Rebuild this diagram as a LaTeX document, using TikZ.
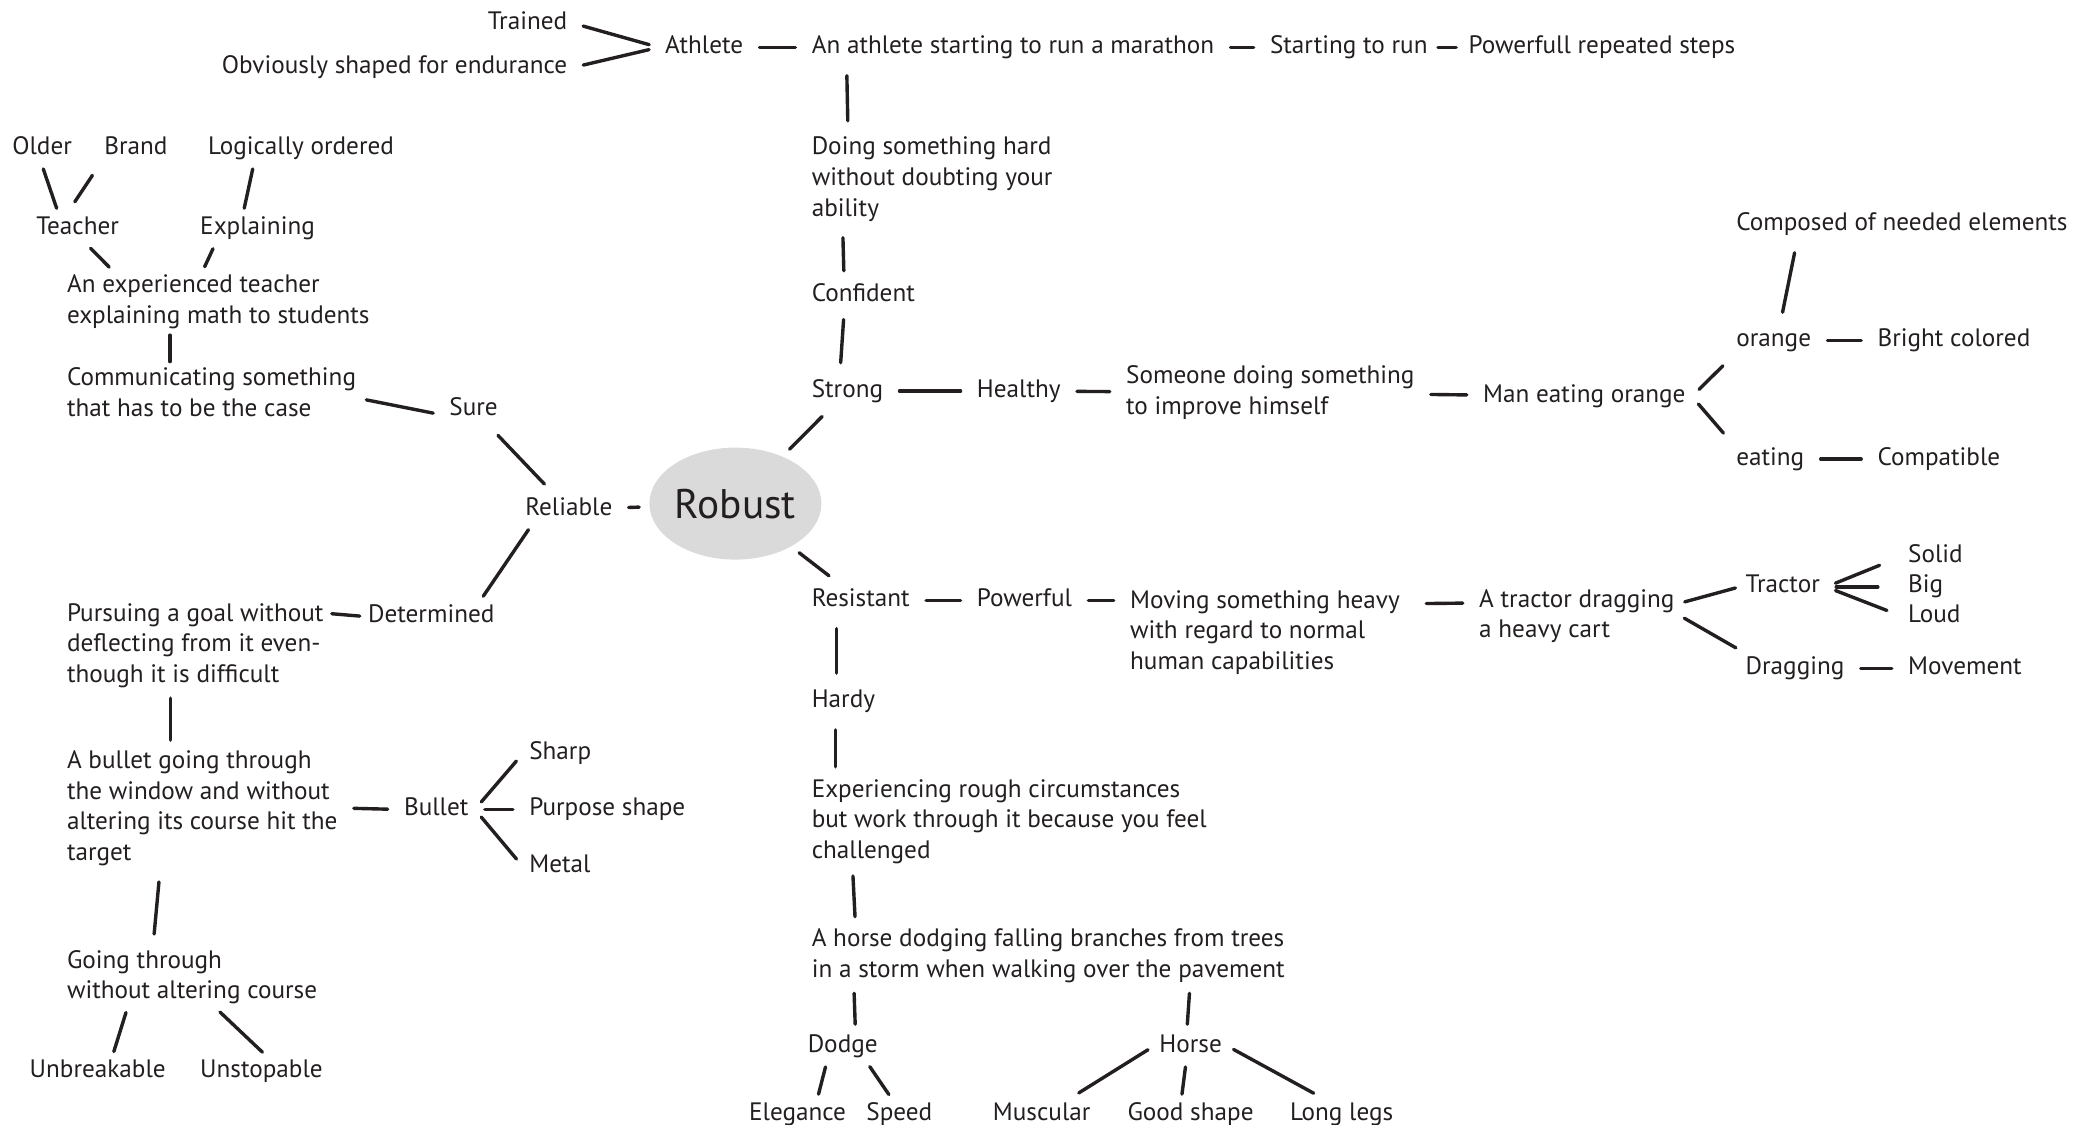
\documentclass[tikz,border=0pt]{standalone}
\usepackage{fontspec}
\setmainfont{PT Sans}
\usetikzlibrary{positioning, shapes.geometric, calc}
\definecolor{ink}{HTML}{231F20}
\definecolor{bubble}{HTML}{DADADA}

\begin{document}
\begin{tikzpicture}[
		x=0.6662pt, y=-0.6662pt,
		idea/.style={inner sep=3pt, anchor=west, yshift=-1.7pt, text=ink, font=\fontsize{12.6}{15.3}\selectfont},
		word/.style={idea, text height=9pt, text depth=3pt},
		note/.style={idea, align=left},
		hub/.style={ellipse, fill=bubble, inner sep=0pt, minimum width=86pt, minimum height=56pt, text=ink, font=\fontsize{20.7}{24}\selectfont},
		link/.style={draw=ink, line width=1.7pt, line cap=round, shorten >=5pt, shorten <=5pt},
		tight/.style={shorten >=1pt, shorten <=1pt}
		]
		\useasboundingbox (0,0) rectangle (1568,844);
		
		% Centre
		\node[hub] (robust) at (552,378) {Robust};
		
		% Strong branch (top)
		\node[word, anchor=east] (trained) at (430.5,15) {Trained};
		\node[word, anchor=east] (endurance) at (430.5,48) {Obviously shaped for endurance};
		\node[word] (athlete) at (494.5,33) {Athlete};
		\node[word] (marathon) at (604.5,33) {An athlete starting to run a marathon};
		\node[word] (starting) at (948.5,33) {Starting to run};
		\node[word] (steps) at (1097.5,33) {Powerfull repeated steps};
		\node[note] (doing) at (604.5,132) {Doing something hard\\without doubting your\\ability};
		\node[word] (confident) at (604.5,219) {Confident};
		\node[word] (strong) at (604.5,291) {Strong};
		\node[word] (healthy) at (728.5,291) {Healthy};
		\node[note] (someone) at (840.5,292) {Someone doing something\\to improve himself};
		\node[word] (man) at (1108.5,295) {Man eating orange};
		\node[word] (composed) at (1298.5,166) {Composed of needed elements};
		\node[word] (orange) at (1298.5,253) {orange};
		\node[word] (bright) at (1404.5,253) {Bright colored};
		\node[word] (eating) at (1298.5,342) {eating};
		\node[word] (compatible) at (1404.5,342) {Compatible};
		
		% Reliable branch (left)
		\node[word] (reliable) at (389.5,380) {Reliable};
		\node[word] (sure) at (332.5,305) {Sure};
		\node[note] (comm) at (45.5,292) {Communicating something\\that has to be the case};
		\node[note] (experienced) at (45.5,224) {An experienced teacher\\explaining math to students};
		\node[word] (teacher) at (22.5,169) {Teacher};
		\node[word] (explaining) at (145.5,169) {Explaining};
		\node[word] (older) at (4.5,109) {Older};
		\node[word] (brand) at (73.5,109) {Brand};
		\node[word] (logically) at (151.5,109) {Logically ordered};
		\node[word] (determined) at (271.5,460) {Determined};
		\node[note] (pursuing) at (45.5,482) {Pursuing a goal without\\deflecting from it even-\\though it is difficult};
		\node[note] (window) at (45.5,604) {A bullet going through\\the window and without\\altering its course hit the\\target};
		\node[word] (bullet) at (298.5,605) {Bullet};
		\node[word] (sharp) at (392.5,563) {Sharp};
		\node[word] (purpose) at (392.5,605) {Purpose shape};
		\node[word] (metal) at (392.5,648) {Metal};
		\node[note] (going) at (45.5,731) {Going through\\without altering course};
		\node[word] (unbreakable) at (17.5,802) {Unbreakable};
		\node[word] (unstopable) at (145.5,802) {Unstopable};
		
		% Resistant branch (bottom right)
		\node[word] (resistant) at (604.5,448) {Resistant};
		\node[word] (powerful) at (728.5,448) {Powerful};
		\node[note] (moving) at (843.5,472) {Moving something heavy\\with regard to normal\\human capabilities};
		\node[note] (cart) at (1105.5,460) {A tractor dragging\\a heavy cart};
		\node[word] (tractor) at (1305.5,438) {Tractor};
		\node[word] (solid) at (1427.5,415) {Solid};
		\node[word] (big) at (1427.5,438) {Big};
		\node[word] (loud) at (1427.5,460) {Loud};
		\node[word] (dragging) at (1305.5,499) {Dragging};
		\node[word] (movement) at (1427.5,499) {Movement};
		\node[word] (hardy) at (604.5,524) {Hardy};
		\node[note] (rough) at (604.5,614) {Experiencing rough circumstances\\but work through it because you feel\\challenged};
		\node[note] (storm) at (604.5,715) {A horse dodging falling branches from trees\\in a storm when walking over the pavement};
		\node[word] (dodge) at (601.5,783) {Dodge};
		\node[word] (horse) at (865.5,783) {Horse};
		\node[word] (elegance) at (557.5,834) {Elegance};
		\node[word] (speed) at (645.5,834) {Speed};
		\node[word] (muscular) at (740.5,834) {Muscular};
		\node[word] (goodshape) at (841.5,834) {Good shape};
		\node[word] (longlegs) at (963.5,834) {Long legs};
		
		% Connections, strong branch
		\path[link] (trained.east) -- (athlete.west);
		\path[link] (endurance.east) -- (athlete.west);
		\path[link] (athlete) -- (marathon);
		\path[link] (marathon) -- (starting);
		\path[link, shorten <=2pt, shorten >=3pt] (starting) -- (steps);
		\path[link] ($(marathon.south west)+(31,0)$) -- ($(doing.north west)+(32,0)$);
		\path[link, shorten >=3pt] ($(doing.south west)+(28,0)$) -- ($(confident.north west)+(29,0)$);
		\path[link, shorten <=3pt] ($(confident.south west)+(29,0)$) -- ($(strong.north west)+(26,0)$);
		\path[link] (strong) -- (robust);
		\path[link] (strong) -- (healthy);
		\path[link] (healthy) -- (someone);
		\path[link] (someone) -- (man);
		\path[link] (man.east) -- (orange.south west);
		\path[link] (man.east) -- (eating.north west);
		\path[link] ($(orange.north west)+(38,0)$) -- ($(composed.south west)+(50,0)$);
		\path[link] (orange) -- (bright);
		\path[link] (eating) -- (compatible);
		
		% Connections, reliable branch
		\path[link] (robust) -- (reliable);
		\path[link] (reliable) -- (sure);
		\path[link, shorten >=2pt] ($(sure.west)+(0,4)$) -- ($(comm.east)+(0,5)$);
		\path[link, shorten <=0pt, shorten >=0pt] ($(comm.north west)+(82,0)$) -- ($(experienced.south west)+(82,0)$);
		\path[link, tight] ($(teacher.south west)+(44.5,0)$) -- ($(experienced.north west)+(37.5,0)$);
		\path[link, tight] ($(explaining.south west)+(15,0)$) -- ($(experienced.north west)+(107.5,0)$);
		\path[link, tight] ($(older.south west)+(27.5,0)$) -- ($(teacher.north west)+(20.5,0)$);
		\path[link] (brand.south west) -- ($(teacher.north west)+(29.5,0)$);
		\path[link, tight] ($(logically.south west)+(38.5,0)$) -- ($(explaining.north west)+(37.5,0)$);
		\path[link, tight] ($(reliable.south west)+(8,0)$) -- ($(determined.north east)+(-14,0)$);
		\path[link, tight] (determined.west) -- ($(pursuing.east)+(0,-24)$);
		\path[link, shorten <=2pt, shorten >=2pt] ($(pursuing.south west)+(82.5,0)$) -- ($(window.north west)+(82.5,0)$);
		\path[link] (window.east) -- (bullet.west);
		\path[link] (bullet.east) -- (sharp.west);
		\path[link] (bullet) -- (purpose);
		\path[link] (bullet.east) -- (metal.west);
		\path[link] ($(window.south west)+(74.5,0)$) -- ($(going.north west)+(69.5,0)$);
		\path[link, tight] ($(going.south west)+(49.5,0)$) -- ($(unbreakable.north west)+(67.5,0)$);
		\path[link, tight] ($(going.south west)+(118.5,0)$) -- ($(unstopable.north west)+(52.5,0)$);
		
		% Connections, resistant branch
		\path[link] (robust) -- (resistant);
		\path[link] (resistant) -- (powerful);
		\path[link] (powerful) -- (powerful -| moving.west);
		\path[link, shorten <=10pt] ($(moving.north east)+(0,15)$) -- ($(cart.north west)+(0,15)$);
		\path[link, shorten <=2pt, shorten >=2pt] ($(cart.east)+(0,-10)$) -- (tractor.west);
		\path[link, shorten <=2pt, shorten >=2pt] (cart.east) -- (dragging.north west);
		\path[link, shorten >=12pt] (tractor.east) -- (solid.west);
		\path[link, shorten >=12pt] (tractor.east) -- (big.west);
		\path[link, shorten >=8pt] (tractor.east) -- (loud.west);
		\path[link] (dragging) -- (movement);
		\path[link] ($(resistant.south west)+(23.5,0)$) -- ($(hardy.north west)+(23.5,0)$);
		\path[link, shorten >=3pt] ($(hardy.south west)+(22.5,0)$) -- ($(rough.north west)+(22.5,0)$);
		\path[link, shorten <=3pt, shorten >=3pt] ($(rough.south west)+(35.5,0)$) -- ($(storm.north west)+(37.5,0)$);
		\path[link, shorten <=2pt, shorten >=2pt] ($(storm.south west)+(36.5,0)$) -- ($(dodge.north west)+(40.5,0)$);
		\path[link, shorten <=2pt, shorten >=2pt] ($(storm.south west)+(288.5,0)$) -- ($(horse.north west)+(25.5,0)$);
		\path[link, tight] ($(dodge.south west)+(18.5,0)$) -- ($(elegance.north west)+(56.5,0)$);
		\path[link, tight] ($(dodge.south west)+(50.5,0)$) -- ($(speed.north west)+(22.5,0)$);
		\path[link, shorten <=3pt, shorten >=3pt] (horse.west) -- ($(muscular.north)+(24,0)$);
		\path[link, tight] ($(horse.south west)+(24.5,0)$) -- ($(goodshape.north west)+(45.5,0)$);
		\path[link, shorten <=3pt, shorten >=3pt] (horse.east) -- ($(longlegs.north west)+(26.5,0)$);
		
	\end{tikzpicture}
\end{document}
